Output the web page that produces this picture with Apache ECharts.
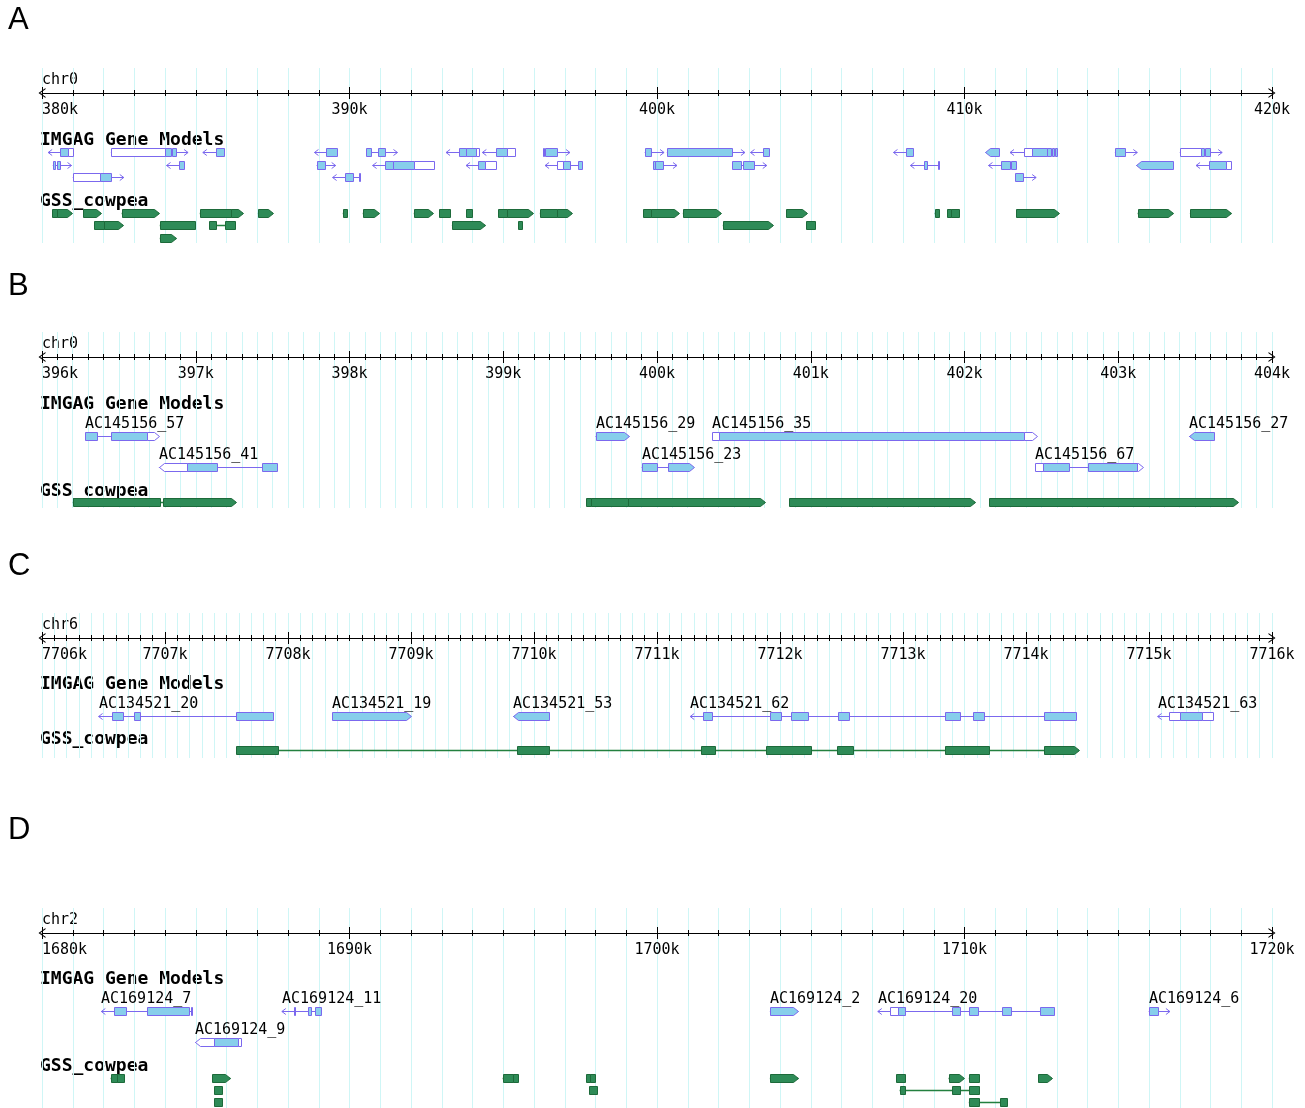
<!DOCTYPE html>
<html><head><meta charset="utf-8">
<script src="https://cdn.jsdelivr.net/npm/echarts@6/dist/echarts.min.js"></script>
<style>html,body{margin:0;padding:0;background:#fff}#c{width:1305px;height:1108px}</style>
</head><body><div id="c"></div><script>
// ---------- DATA (positions in kb) ----------
// gene rows: [name, lane, strand, start, end, exons[[start,end,kind]]]  kind: c = coding (blue), u = UTR (white)
// GSS rows:  [name, lane, strand, start, end, blocks[[start,end]]]
const chromA = 'chr0', rangeA = [380, 420], tickA = 10;
const genesA = [
 ['',0,-1,380.20,381.02,[[380.58,380.84,'c'],[380.84,381.02,'u']]],
 ['',0,1,382.24,384.75,[[382.24,383.99,'u'],[383.99,384.20,'c'],[384.22,384.37,'c']]],
 ['',0,-1,385.23,385.91,[[385.67,385.91,'c']]],
 ['',0,-1,388.86,389.58,[[389.25,389.58,'c']]],
 ['',0,1,390.54,391.56,[[390.54,390.70,'c'],[390.92,391.14,'c']]],
 ['',0,-1,393.14,394.22,[[393.57,393.78,'c'],[393.80,394.12,'c'],[394.12,394.22,'u']]],
 ['',0,-1,394.32,395.39,[[394.77,395.13,'c'],[395.13,395.39,'u']]],
 ['',0,1,396.30,397.17,[[396.30,396.33,'c'],[396.36,396.75,'c']]],
 ['',0,1,399.60,400.23,[[399.60,399.81,'c']]],
 ['',0,1,400.32,402.86,[[400.32,402.44,'c']]],
 ['',0,-1,403.04,403.64,[[403.44,403.64,'c']]],
 ['',0,-1,407.69,408.31,[[408.09,408.31,'c']]],
 ['',0,-1,410.68,411.13,[[410.68,411.13,'c']]],
 ['',0,-1,411.48,413.02,[[411.92,412.19,'u'],[412.19,412.67,'c'],[412.69,412.80,'c'],[412.83,412.92,'c'],[412.95,413.02,'c']]],
 ['',0,1,414.89,415.62,[[414.89,415.22,'c']]],
 ['',0,1,417.00,418.38,[[417.00,417.69,'u'],[417.69,417.80,'c'],[417.83,417.98,'c']]],
 ['',1,1,380.35,380.96,[[380.35,380.42,'c'],[380.48,380.58,'c']]],
 ['',1,-1,384.05,384.61,[[384.45,384.61,'c']]],
 ['',1,1,388.93,389.55,[[388.93,389.19,'c']]],
 ['',1,-1,390.75,392.76,[[391.14,391.40,'c'],[391.40,392.11,'c'],[392.11,392.76,'u']]],
 ['',1,-1,393.79,394.77,[[394.19,394.42,'c'],[394.42,394.77,'u']]],
 ['',1,-1,396.36,397.56,[[396.75,396.95,'u'],[396.95,397.18,'c'],[397.44,397.56,'c']]],
 ['',1,1,399.87,400.65,[[399.87,399.93,'c'],[399.95,400.19,'c']]],
 ['',1,1,402.44,403.57,[[402.44,402.73,'c'],[402.79,403.15,'c']]],
 ['',1,-1,408.24,409.16,[[408.67,408.77,'c'],[409.13,409.16,'c']]],
 ['',1,-1,410.78,411.67,[[411.19,411.49,'c'],[411.52,411.67,'c']]],
 ['',1,-1,415.58,416.78,[[415.58,416.78,'c']]],
 ['',1,-1,417.53,418.67,[[417.94,418.51,'c'],[418.51,418.67,'u']]],
 ['',2,1,381.00,382.66,[[381.00,381.88,'u'],[381.88,382.26,'c']]],
 ['',2,-1,389.45,390.35,[[389.84,390.10,'c'],[390.32,390.35,'c']]],
 ['',2,1,411.65,412.33,[[411.65,411.89,'c']]]
];
const gssA = [
 ['',0,1,380.33,380.96,[[380.33,380.48],[380.48,380.96]]],
 ['',0,1,381.34,381.91,[[381.34,381.91]]],
 ['',0,1,382.59,383.81,[[382.59,383.81]]],
 ['',0,1,385.13,386.54,[[385.13,386.16],[386.16,386.54]]],
 ['',0,1,387.02,387.51,[[387.02,387.51]]],
 ['',0,0,389.78,389.91,[[389.78,389.91]]],
 ['',0,1,390.43,390.97,[[390.43,390.97]]],
 ['',0,1,392.09,392.70,[[392.09,392.70]]],
 ['',0,0,392.92,393.28,[[392.92,393.28]]],
 ['',0,0,393.79,393.97,[[393.79,393.97]]],
 ['',0,1,394.84,395.97,[[394.84,395.12],[395.12,395.97]]],
 ['',0,1,396.19,397.23,[[396.19,396.76],[396.76,397.23]]],
 ['',0,1,399.55,400.71,[[399.55,399.82],[399.82,400.71]]],
 ['',0,1,400.84,402.08,[[400.84,402.08]]],
 ['',0,1,404.20,404.88,[[404.20,404.88]]],
 ['',0,0,409.03,409.18,[[409.03,409.18]]],
 ['',0,0,409.43,409.83,[[409.43,409.57],[409.57,409.83]]],
 ['',0,1,411.68,413.07,[[411.68,413.07]]],
 ['',0,1,415.63,416.79,[[415.63,416.79]]],
 ['',0,1,417.33,418.68,[[417.33,418.68]]],
 ['',1,1,381.69,382.64,[[381.69,382.01],[382.01,382.64]]],
 ['',1,0,383.83,384.97,[[383.83,384.97]]],
 ['',1,0,385.43,386.27,[[385.43,385.65],[385.94,386.27]]],
 ['',1,1,393.33,394.42,[[393.33,394.42]]],
 ['',1,0,395.49,395.61,[[395.49,395.61]]],
 ['',1,1,402.14,403.77,[[402.14,403.77]]],
 ['',1,0,404.85,405.13,[[404.85,405.13]]],
 ['',2,1,383.83,384.37,[[383.83,384.37]]]
];

const chromB = 'chr0', rangeB = [396, 404], tickB = 1;
const genesB = [
 ['AC145156_57',0,1,396.28,396.76,[[396.28,396.36,'c'],[396.45,396.68,'c'],[396.68,396.76,'u']]],
 ['AC145156_41',1,-1,396.76,397.53,[[396.76,396.94,'u'],[396.94,397.14,'c'],[397.43,397.53,'c']]],
 ['AC145156_29',0,1,399.60,399.82,[[399.60,399.82,'c']]],
 ['AC145156_23',1,1,399.90,400.24,[[399.90,400.00,'c'],[400.07,400.24,'c']]],
 ['AC145156_35',0,1,400.36,402.47,[[400.36,400.40,'u'],[400.40,402.39,'c'],[402.39,402.47,'u']]],
 ['AC145156_67',1,1,402.46,403.16,[[402.46,402.51,'u'],[402.51,402.68,'c'],[402.80,403.12,'c'],[403.12,403.16,'u']]],
 ['AC145156_27',0,-1,403.46,403.62,[[403.46,403.62,'c']]]
];
const gssB = [
 ['',0,1,396.20,397.26,[[396.20,396.77],[396.79,397.26]]],
 ['',0,1,399.54,400.70,[[399.54,399.57],[399.57,399.81],[399.81,400.70]]],
 ['',0,1,400.86,402.07,[[400.86,402.07]]],
 ['',0,1,402.16,403.78,[[402.16,403.78]]]
];

const chromC = 'chr6', rangeC = [7706, 7716], tickC = 1;
const genesC = [
 ['AC134521_20',0,-1,7706.46,7707.88,[[7706.57,7706.66,'c'],[7706.75,7706.80,'c'],[7707.58,7707.88,'c']]],
 ['AC134521_19',0,1,7708.36,7709.00,[[7708.36,7709.00,'c']]],
 ['AC134521_53',0,-1,7709.83,7710.12,[[7709.83,7710.12,'c']]],
 ['AC134521_62',0,-1,7711.27,7714.41,[[7711.37,7711.45,'c'],[7711.92,7712.01,'c'],[7712.09,7712.23,'c'],[7712.47,7712.56,'c'],[7713.34,7713.46,'c'],[7713.57,7713.66,'c'],[7714.15,7714.41,'c']]],
 ['AC134521_63',0,-1,7715.07,7715.52,[[7715.16,7715.25,'u'],[7715.25,7715.43,'c'],[7715.43,7715.52,'u']]]
];
const gssC = [
 ['',0,1,7707.58,7714.43,[[7707.58,7707.92],[7709.86,7710.12],[7711.36,7711.47],[7711.89,7712.25],[7712.46,7712.59],[7713.34,7713.70],[7714.15,7714.43]]]
];

const chromD = 'chr2', rangeD = [1680, 1720], tickD = 10;
const genesD = [
 ['AC169124_7',0,-1,1681.93,1684.87,[[1682.35,1682.72,'c'],[1683.41,1684.78,'c'],[1684.84,1684.87,'c']]],
 ['AC169124_9',1,-1,1684.98,1686.46,[[1684.98,1685.60,'u'],[1685.60,1686.36,'c'],[1686.36,1686.46,'u']]],
 ['AC169124_11',0,-1,1687.80,1689.08,[[1688.20,1688.24,'c'],[1688.66,1688.75,'c'],[1688.88,1689.08,'c']]],
 ['AC169124_2',0,1,1703.67,1704.60,[[1703.67,1704.60,'c']]],
 ['AC169124_20',0,-1,1707.18,1712.92,[[1707.58,1707.85,'u'],[1707.85,1708.08,'c'],[1709.58,1709.85,'c'],[1710.14,1710.43,'c'],[1711.23,1711.52,'c'],[1712.44,1712.92,'c']]],
 ['AC169124_6',0,1,1715.99,1716.68,[[1715.99,1716.29,'c']]]
];
const gssD = [
 ['',0,0,1682.23,1682.68,[[1682.23,1682.45],[1682.45,1682.68]]],
 ['',0,1,1685.54,1686.13,[[1685.54,1686.13]]],
 ['',0,0,1694.98,1695.48,[[1694.98,1695.33],[1695.33,1695.48]]],
 ['',0,0,1697.69,1697.97,[[1697.69,1697.82],[1697.82,1697.97]]],
 ['',0,1,1703.67,1704.60,[[1703.67,1704.60]]],
 ['',0,0,1707.78,1708.08,[[1707.78,1708.08]]],
 ['',0,1,1709.48,1709.97,[[1709.48,1709.97]]],
 ['',0,0,1710.14,1710.46,[[1710.14,1710.46]]],
 ['',0,1,1712.39,1712.84,[[1712.39,1712.84]]],
 ['',1,0,1685.60,1685.86,[[1685.60,1685.86]]],
 ['',1,0,1697.79,1698.06,[[1697.79,1698.06]]],
 ['',1,0,1707.89,1710.46,[[1707.89,1708.08],[1709.58,1709.85],[1710.14,1710.46]]],
 ['',2,0,1685.60,1685.86,[[1685.60,1685.86]]],
 ['',2,0,1710.14,1711.38,[[1710.14,1710.46],[1711.17,1711.38]]]
];

const trackNames = ['IMGAG Gene Models', 'GSS_cowpea'];
const panelLetters = ['A', 'B', 'C', 'D'];

// ---------- LAYOUT ----------
const panels = [
 {chrom: chromA, range: rangeA, tick: tickA, genes: genesA, gss: gssA, top: 68, height: 175,
  geneLanes: [84, 96.5, 109], gssLanes: [144.5, 157, 169.5], letterY: 22, h1: 72, h2: 133},
 {chrom: chromB, range: rangeB, tick: tickB, genes: genesB, gss: gssB, top: 332, height: 176,
  geneLanes: [104, 134.5], gssLanes: [170], letterY: 288, h1: 72, h2: 159},
 {chrom: chromC, range: rangeC, tick: tickC, genes: genesC, gss: gssC, top: 613, height: 145,
  geneLanes: [103], gssLanes: [137], letterY: 568, h1: 71, h2: 126},
 {chrom: chromD, range: rangeD, tick: tickD, genes: genesD, gss: gssD, top: 908, height: 200,
  geneLanes: [103, 134], gssLanes: [170, 182, 194], letterY: 832, h1: 71, h2: 158}
];
const LEFT = 42, WIDTH = 1230, AXIS_OFF = 25;
const MONO = '"DejaVu Sans Mono", "Liberation Mono", monospace';
const GRIDC = '#cff6f6';
const GENE_FILL = '#87CEEB', GENE_STROKE = '#7B68EE';
const GSS_FILL = '#2E8B57', GSS_STROKE = '#1d6a3a', GSS_LINE = '#23803f';
const CHEVRON = 'path://M0,7L5,0L10,7L8.8,7L5,1.7L1.2,7Z';

function featureSeries(pi, feats, lanes, isGene) {
  return {
    type: 'custom', xAxisIndex: pi * 3, yAxisIndex: pi, clip: false, silent: true,
    data: feats.map((f, i) => [f[3], f[4], lanes[f[1]], i]),
    encode: {x: [0, 1], y: 2},
    renderItem: function (params, api) {
      const f = feats[api.value(3)];
      const yv = api.value(2);
      const X = v => api.coord([v, yv])[0];
      const cy = Math.round(api.coord([f[3], yv])[1]) + 0.5;
      const strand = f[2], parts = f[5], last = parts.length - 1;
      const lineC = isGene ? GENE_STROKE : GSS_LINE;
      const kids = [];
      const x0 = X(f[3]), x1 = X(f[4]);
      kids.push({type: 'line', shape: {x1: x0, y1: cy, x2: x1, y2: cy},
        style: {stroke: lineC, lineWidth: isGene ? 1 : 1.5}});
      if (strand === 1 && parts[last][1] < f[4]) {
        kids.push({type: 'polyline', shape: {points: [[x1 - 4, cy - 3], [x1, cy], [x1 - 4, cy + 3]]},
          style: {stroke: lineC, lineWidth: 1, fill: null}});
      }
      if (strand === -1 && parts[0][0] > f[3]) {
        kids.push({type: 'polyline', shape: {points: [[x0 + 4, cy - 3], [x0, cy], [x0 + 4, cy + 3]]},
          style: {stroke: lineC, lineWidth: 1, fill: null}});
      }
      parts.forEach((p, j) => {
        let a = Math.round(X(p[0])) + 0.5, b = Math.round(X(p[1])) + 0.5;
        if (b - a < 1) b = a + 1;
        const t = cy - 4, bt = cy + 4;
        let pts;
        const tip = Math.min(5, b - a);
        if (strand === 1 && j === last && p[1] >= f[4]) {
          pts = [[a, t], [b - tip, t], [b, cy], [b - tip, bt], [a, bt]];
        } else if (strand === -1 && j === 0 && p[0] <= f[3]) {
          pts = [[a + tip, t], [b, t], [b, bt], [a + tip, bt], [a, cy]];
        } else {
          pts = [[a, t], [b, t], [b, bt], [a, bt]];
        }
        const fill = isGene ? (p[2] === 'u' ? '#ffffff' : GENE_FILL) : GSS_FILL;
        kids.push({type: 'polygon', shape: {points: pts},
          style: {fill: fill, stroke: isGene ? GENE_STROKE : GSS_STROKE, lineWidth: 1}});
      });
      if (f[0]) {
        kids.push({type: 'text', style: {text: f[0], x: Math.round(x0), y: cy - 12,
          fill: '#000', font: '15px ' + MONO, align: 'left', verticalAlign: 'middle'}});
      }
      return {type: 'group', children: kids};
    }
  };
}

const grid = [], xAxis = [], yAxis = [], series = [], graphic = [];
panels.forEach((P, pi) => {
  grid.push({left: LEFT, width: WIDTH, top: P.top, height: P.height});
  const base = {type: 'value', gridIndex: pi, min: P.range[0], max: P.range[1], interval: P.tick, position: 'top'};
  xAxis.push(Object.assign({}, base, {
    axisLine: {show: false}, axisTick: {show: false}, axisLabel: {show: false},
    splitLine: {show: true, lineStyle: {color: GRIDC, width: 1}},
    minorTick: {show: false, splitNumber: 10},
    minorSplitLine: {show: true, lineStyle: {color: GRIDC, width: 1}}
  }));
  xAxis.push(Object.assign({}, base, {
    offset: -AXIS_OFF,
    axisLine: {show: true, symbol: [CHEVRON, CHEVRON], symbolSize: [10, 7], lineStyle: {color: '#000', width: 1}},
    axisTick: {show: true, inside: false, length: 6, lineStyle: {color: '#000', width: 1}},
    minorTick: {show: true, splitNumber: 10, length: 3, lineStyle: {color: '#000', width: 1}},
    axisLabel: {show: true, inside: true, margin: 10, color: '#000', fontFamily: MONO, fontSize: 15,
      formatter: v => v + 'k', alignMinLabel: 'left', showMinLabel: true, showMaxLabel: true},
    splitLine: {show: false}
  }));
  xAxis.push(Object.assign({}, base, {
    offset: -AXIS_OFF,
    axisLine: {show: false},
    axisTick: {show: true, inside: true, length: 6, lineStyle: {color: '#000', width: 1}},
    minorTick: {show: true, splitNumber: 10, length: 3, lineStyle: {color: '#000', width: 1}},
    axisLabel: {show: false}, splitLine: {show: false}
  }));
  yAxis.push({type: 'value', gridIndex: pi, min: 0, max: P.height, inverse: true, show: false});
  series.push(featureSeries(pi, P.genes, P.geneLanes, true));
  series.push(featureSeries(pi, P.gss, P.gssLanes, false));

  graphic.push({type: 'text', left: 8, top: P.letterY - 17,
    style: {text: panelLetters[pi], fill: '#000', font: '31px "Liberation Sans", Arial, sans-serif'}});
  graphic.push({type: 'text', x: LEFT, y: P.top + 12,
    style: {text: P.chrom, fill: '#000', font: '15px ' + MONO, verticalAlign: 'middle'}});
  graphic.push({type: 'text', x: 40, y: P.top + P.h1,
    style: {text: trackNames[0], fill: '#000', font: 'bold 18px ' + MONO, verticalAlign: 'middle'}});
  graphic.push({type: 'text', x: 40, y: P.top + P.h2,
    style: {text: trackNames[1], fill: '#000', font: 'bold 18px ' + MONO, verticalAlign: 'middle'}});
});

const chart = echarts.init(document.getElementById('c'), null, {renderer: 'canvas'});
chart.setOption({backgroundColor: '#fff', animation: false, grid, xAxis, yAxis, series, graphic});
</script></body></html>
